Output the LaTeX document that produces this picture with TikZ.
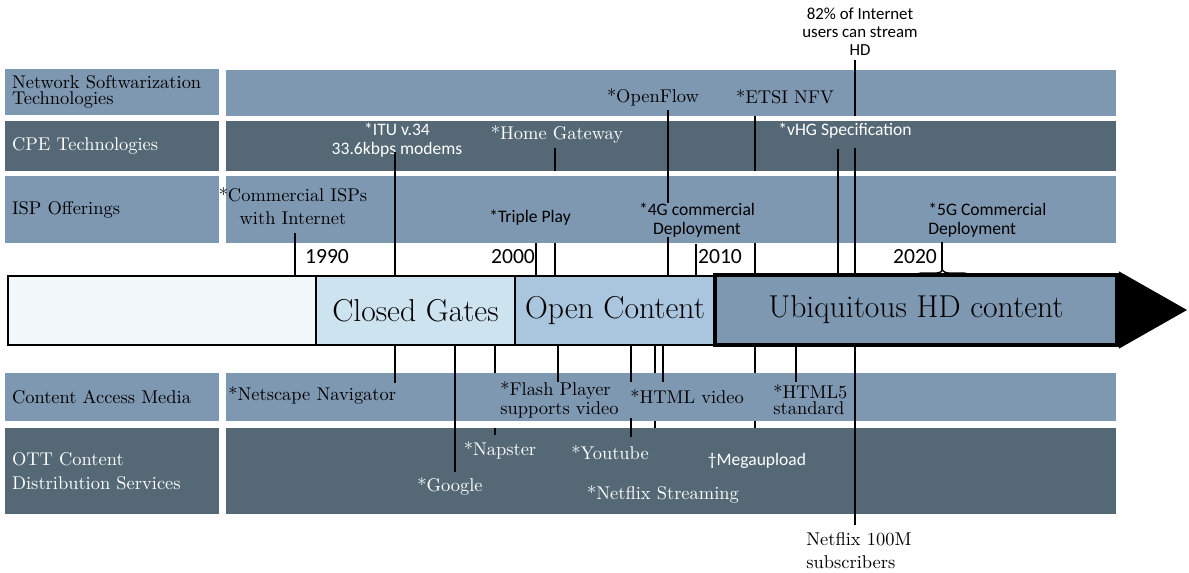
\documentclass[tikz,border=0pt]{standalone}
\usepackage{fontspec}
\newfontfamily\carlito{Carlito}
\usetikzlibrary{decorations.pathreplacing}

\definecolor{rowlight}{RGB}{127,152,178}
\definecolor{rowdark}{RGB}{84,104,117}
\definecolor{segzero}{RGB}{243,248,251}
\definecolor{segone}{RGB}{205,227,240}
\definecolor{segtwo}{RGB}{170,198,222}

\tikzset{
    rowlabel/.style={minimum width=4.28cm, text width=4cm, inner xsep=0.14cm,
        inner ysep=0pt, align=left, font=\fontsize{10.5}{9}\selectfont},
    rowbox/.style={minimum width=17.8cm, inner sep=0pt},
    seg/.style={draw=black, line width=1.1pt, inner sep=0pt,
        minimum height=1.38cm, font=\fontsize{18}{18}\selectfont},
    evdark/.style={text=black, inner sep=0pt, align=center,
        font=\fontsize{10.5}{9}\selectfont},
    evlight/.style={evdark, text=white},
    sansdark/.style={text=black, inner sep=0pt, align=center,
        font=\carlito\fontsize{10}{10.5}\selectfont},
    sanslight/.style={sansdark, text=white},
    year/.style={text=black, inner sep=0pt, font=\carlito\fontsize{12.3}{12}\selectfont},
    tick/.style={line width=1.3pt}
}

\begin{document}
\begin{tikzpicture}[x=0.02cm, y=-0.02cm]
    \useasboundingbox (0,0) rectangle (1189,572);

    % rows
    \node[rowlabel, fill=rowlight, minimum height=0.92cm] (nstlbl) at (112,92)
        {Network Softwarization\\Technologies};
    \node[rowbox, fill=rowlight, minimum height=0.92cm] (nstbox) at (671,93) {};
    \node[rowlabel, fill=rowdark, text=white, minimum height=1cm] (cpelbl) at (112,146)
        {CPE Technologies};
    \node[rowbox, fill=rowdark, minimum height=1cm] (cpebox) at (671,146) {};
    \node[rowlabel, fill=rowlight, minimum height=1.34cm] (isplbl) at (112,209.5)
        {ISP Offerings};
    \node[rowbox, fill=rowlight, minimum height=1.34cm] (ispbox) at (671,209.5) {};
    \node[rowlabel, fill=rowlight, minimum height=0.96cm] (acclbl) at (112,397)
        {Content Access Media};
    \node[rowbox, fill=rowlight, minimum height=0.96cm] (accbox) at (671,397) {};
    \node[rowlabel, fill=rowdark, text=white, minimum height=1.72cm,
        font=\fontsize{10.5}{14}\selectfont] (ottlbl) at (112,471)
        {OTT Content\\Distribution Services};
    \node[rowbox, fill=rowdark, minimum height=1.72cm] (ottbox) at (671,471) {};

    % timeline
    \node[inner sep=0pt, minimum width=22.18cm, minimum height=1.38cm] (bar) at (562.5,310.5) {};
    \node[seg, fill=segzero, minimum width=6.16cm] (seg0) at (162,310.5) {};
    \node[seg, fill=segone, minimum width=3.98cm] (closed) at (415.5,310.5) {Closed Gates};
    \node[seg, fill=segtwo, minimum width=4cm] (open) at (615,310.5) {Open Content};
    \node[seg, fill=rowlight, line width=2.2pt, minimum width=8.04cm,
        minimum height=1.4cm] (ubi) at (916,310) {Ubiquitous HD content};
    \coordinate (tip) at (1187,310);
    \fill ([yshift=1pt]ubi.north east) -- (tip) -- ([yshift=-1pt]ubi.south east) -- cycle;

    \node[year] (y1990) at (327,257) {1990};
    \node[year] (y2000) at (513,257) {2000};
    \node[year] (y2010) at (720,257) {2010};
    \node[year] (y2020) at (915,257) {2020};

    % events above
    \node[sansdark, font=\carlito\fontsize{9.6}{10.2}\selectfont] (hd82) at (860,32)
        {82\% of Internet\\users can stream\\HD};
    \node[evdark] (openflow) at (653,97) {*OpenFlow};
    \node[evdark] (etsi) at (785,97) {*ETSI NFV};
    \node[sanslight, font=\carlito\fontsize{10}{11}\selectfont] (itu) at (397,140)
        {*ITU v.34\\33.6kbps modems};
    \node[evlight] (home) at (557,134) {*Home Gateway};
    \node[sanslight] (vhg) at (845,131) {*vHG Specification};
    \node[evdark, font=\fontsize{10.5}{13}\selectfont] (isps) at (293,206)
        {*Commercial ISPs\\with Internet};
    \node[sansdark] (triple) at (530,218) {*Triple Play};
    \node[sansdark] (fourg) at (697,220) {*4G commercial\\Deployment};
    \node[sansdark, align=left, anchor=west] (fiveg) at (928,220)
        {*5G Commercial\\Deployment};

    \coordinate (t-isps) at (295,233);
    \coordinate (t-itu) at (395,152);
    \coordinate (t-triple) at (536,243);
    \coordinate (t-home) at (555,148);
    \coordinate (t-openflow) at (668,110);
    \coordinate (t-tenyear) at (696,244);
    \coordinate (t-etsi) at (755,116);
    \coordinate (t-vhg) at (838,149);
    \coordinate (t-hd) at (855,60);
    \coordinate (t-hdlow) at (855,148);
    \coordinate (t-fiveg) at (942,242);
    \coordinate (t-brace) at (942,270);

    \draw[tick] (t-isps) -- (t-isps |- bar.north);
    \draw[tick] (t-itu) -- (t-itu |- bar.north);
    \draw[tick] (t-triple) -- (t-triple |- bar.north);
    \draw[tick] (t-home) -- (t-home |- cpebox.south)
        (t-home |- ispbox.south) -- (t-home |- bar.north);
    \draw[tick] (t-openflow) -- (t-openflow |- fourg.north)
        (t-openflow |- fourg.south) -- (t-openflow |- bar.north);
    \draw[tick] (t-tenyear) -- (t-tenyear |- bar.north);
    \draw[tick] (t-etsi) -- (t-etsi |- cpebox.south)
        (t-etsi |- ispbox.south) -- (t-etsi |- bar.north);
    \draw[tick] (t-vhg) -- (t-vhg |- bar.north);
    \draw[tick] (t-hd) -- (t-hd |- nstbox.south)
        (t-hdlow) -- (t-hdlow |- bar.north);
    \draw[line width=0.8pt] (t-fiveg) -- (t-brace);
    \draw[line width=0.8pt, decorate, decoration={brace, amplitude=3.4pt}]
        (915,276) -- (970,276);

    % events below
    \node[evdark, anchor=west] (netscape) at (228,395) {*Netscape Navigator};
    \node[evdark, align=left, anchor=west] (flash) at (500,400) {*Flash Player\\supports video};
    \node[evdark, anchor=west] (htmlvid) at (630,397) {*HTML video};
    \node[evdark, align=left, anchor=west] (html5) at (773,400) {*HTML5\\standard};
    \node[evlight] (napster) at (500,450) {*Napster};
    \node[evlight] (google) at (450,486) {*Google};
    \node[evlight] (youtube) at (610,453) {*Youtube};
    \node[evlight] (netflixs) at (663,494) {*Netflix Streaming};
    \node[sanslight] (mega) at (757,461) {\textdagger Megaupload};
    \node[evdark, align=left, anchor=west, font=\fontsize{10.5}{13}\selectfont]
        (netflix100) at (806,551) {Netflix 100M\\subscribers};

    \coordinate (b-netscape) at (395,383);
    \coordinate (b-google) at (455,472);
    \coordinate (b-napster) at (495,435);
    \coordinate (b-flash) at (558,382);
    \coordinate (b-youtube) at (631,437);
    \coordinate (b-youtubeup) at (631,382);
    \coordinate (b-netflixs) at (655,428);
    \coordinate (b-htmlvid) at (663,382);
    \coordinate (b-mega) at (755,428);
    \coordinate (b-html5) at (796,382);
    \coordinate (b-netflix100) at (855,525);

    \draw[tick] (b-netscape |- bar.south) -- (b-netscape);
    \draw[tick] (b-google |- bar.south) -- (b-google);
    \draw[tick] (b-napster |- bar.south) -- (b-napster |- accbox.north)
        (b-napster |- ottbox.north) -- (b-napster);
    \draw[tick] (b-flash |- bar.south) -- (b-flash);
    \draw[tick] (b-youtube |- bar.south) -- (b-youtubeup)
        (b-youtube |- flash.south) -- (b-youtube);
    \draw[tick] (b-netflixs |- bar.south) -- (b-netflixs |- accbox.north)
        (b-netflixs |- accbox.south) -- (b-netflixs);
    \draw[tick] (b-htmlvid |- bar.south) -- (b-htmlvid);
    \draw[tick] (b-mega |- bar.south) -- (b-mega |- accbox.north)
        (b-mega |- accbox.south) -- (b-mega);
    \draw[tick] (b-html5 |- bar.south) -- (b-html5);
    \draw[tick] (b-netflix100 |- bar.south) -- (b-netflix100);

\end{tikzpicture}
\end{document}
